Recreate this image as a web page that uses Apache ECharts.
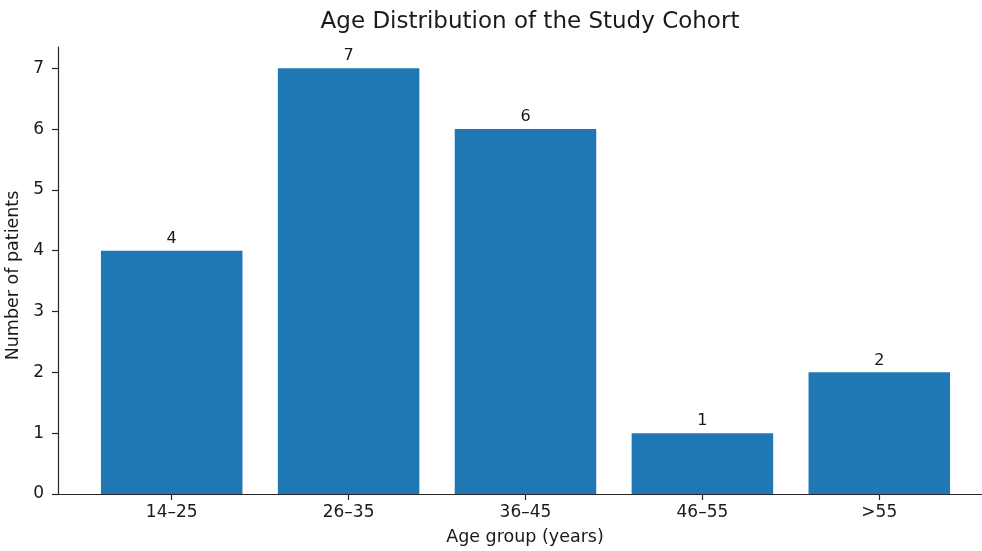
<!DOCTYPE html>
<html>
<head>
<meta charset="utf-8">
<script src="https://cdn.jsdelivr.net/npm/echarts@6/dist/echarts.min.js"></script>
<style>
html,body{margin:0;padding:0;background:#fff;}
#chart{width:982px;height:551px;}
</style>
</head>
<body>
<div id="chart"></div>
<script>
const categories = ['14–25', '26–35', '36–45', '46–55', '>55'];
const patients = [4, 7, 6, 1, 2];
const yTicks = [0, 1, 2, 3, 4, 5, 6, 7];

const chart = echarts.init(document.getElementById('chart'), null, {renderer: 'canvas'});
const font = 'DejaVu Sans';
const txt = '#1a1a1a';
const axisCol = '#262626';
const yMax = 7.35;

chart.setOption({
  animation: false,
  backgroundColor: '#fff',
  title: {
    text: 'Age Distribution of the Study Cohort',
    left: 525, top: 6, textAlign: 'center',
    textStyle: {fontFamily: font, fontSize: 23, fontWeight: 'normal', color: txt}
  },
  grid: [
    {left: 83.25, top: 47, width: 884.5, bottom: 57, containLabel: false, outerBoundsMode: 'none'},
    {left: 58, top: 47, width: 934, bottom: 57, containLabel: false, outerBoundsMode: 'none'}
  ],
  xAxis: [{
    gridIndex: 0, type: 'category', data: categories, boundaryGap: true, z: 5,
    splitLine: {show: false},
    axisLine: {show: true, lineStyle: {color: 'rgba(0,0,0,0)'}},
    axisTick: {show: true, interval: 0, alignWithLabel: true, length: 6, inside: false, lineStyle: {color: axisCol, width: 1.2}},
    axisLabel: {interval: 0, margin: 10, fontFamily: font, fontSize: 17, color: txt}
  }, {
    gridIndex: 1, type: 'value', min: 0, max: 1,
    splitLine: {show: false},
    axisLine: {show: true, onZero: false, lineStyle: {color: axisCol, width: 1.2}},
    axisTick: {show: false},
    axisLabel: {show: false},
    name: 'Age group (years)', nameLocation: 'middle', nameGap: 34,
    nameTextStyle: {fontFamily: font, fontSize: 17.5, color: txt}
  }],
  yAxis: [{
    gridIndex: 0, type: 'value', min: 0, max: yMax, show: false
  }, {
    gridIndex: 1, type: 'value', min: 0, max: yMax, interval: 1,
    splitLine: {show: false},
    axisLine: {show: true, onZero: false, lineStyle: {color: axisCol, width: 1.2}},
    axisTick: {show: true, customValues: yTicks, length: 6, lineStyle: {color: axisCol, width: 1.2}},
    axisLabel: {customValues: yTicks, margin: 14, fontFamily: font, fontSize: 17, color: txt},
    name: 'Number of patients', nameLocation: 'middle', nameGap: 29, nameRotate: 90,
    nameTextStyle: {fontFamily: font, fontSize: 17.5, color: txt, padding: [0, 10, 0, 0]}
  }],
  series: [{
    type: 'bar', xAxisIndex: 0, yAxisIndex: 0,
    data: patients,
    barWidth: '80%',
    itemStyle: {color: '#1f77b4'},
    label: {show: true, position: 'top', distance: 4, fontFamily: font, fontSize: 16, color: txt}
  }]
});
</script>
</body>
</html>
